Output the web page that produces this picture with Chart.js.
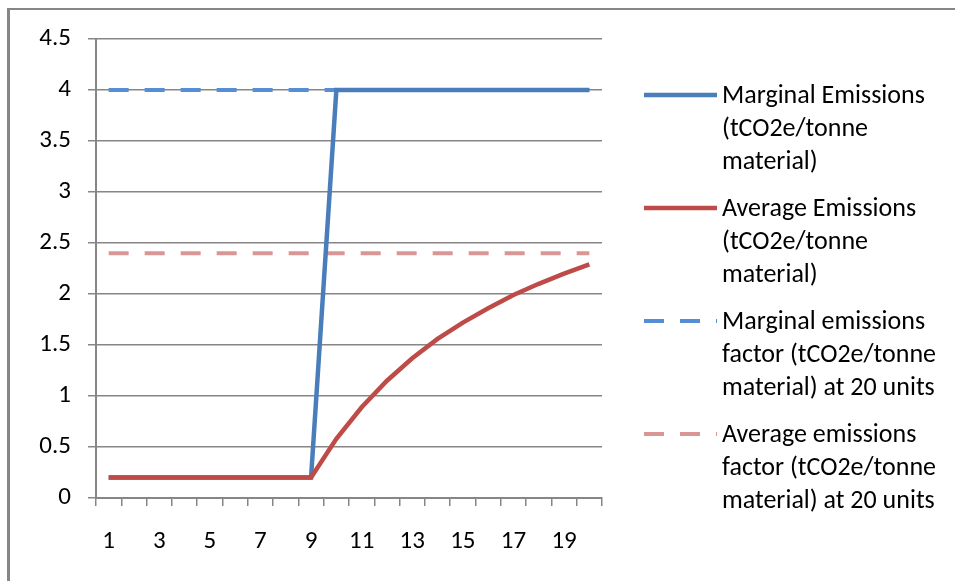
<!DOCTYPE html>
<html>
<head>
<meta charset="utf-8">
<script src="https://cdn.jsdelivr.net/npm/chart.js@4/dist/chart.umd.min.js"></script>
<style>
  html, body { margin: 0; padding: 0; background: #fff; }
  #wrap { position: relative; width: 955px; height: 581px; overflow: hidden; }
  #frameTop { position: absolute; left: 7px; top: 8px; width: 948px; height: 2px; background: #868686; }
  #frameLeft { position: absolute; left: 7px; top: 8px; width: 3px; height: 573px; background: #868686; }
  canvas { position: absolute; left: 0; top: 0; }
</style>
</head>
<body>
<div id="wrap">
  <canvas id="c" width="955" height="581"></canvas>
  <div id="frameTop"></div>
  <div id="frameLeft"></div>
</div>
<script>
// Units produced
const units = ['1','2','3','4','5','6','7','8','9','10','11','12','13','14','15','16','17','18','19','20'];

// Emissions per unit of material (tCO2e/tonne)
const marginalEmissions = [0.2,0.2,0.2,0.2,0.2,0.2,0.2,0.2,0.2,4,4,4,4,4,4,4,4,4,4,4];
const averageEmissions  = [0.2,0.2,0.2,0.2,0.2,0.2,0.2,0.2,0.2,0.58,0.89,1.15,1.37,1.56,1.72,1.86,1.99,2.1,2.2,2.29];
const marginalFactorAt20 = [4,4,4,4,4,4,4,4,4,4,4,4,4,4,4,4,4,4,4,4];
const averageFactorAt20  = [2.4,2.4,2.4,2.4,2.4,2.4,2.4,2.4,2.4,2.4,2.4,2.4,2.4,2.4,2.4,2.4,2.4,2.4,2.4,2.4];

const seriesNames = [
  ['Marginal Emissions', '(tCO2e/tonne', 'material)'],
  ['Average Emissions', '(tCO2e/tonne', 'material)'],
  ['Marginal emissions', 'factor (tCO2e/tonne', 'material) at 20 units'],
  ['Average emissions', 'factor (tCO2e/tonne', 'material) at 20 units']
];

const FONT = 'Carlito, Lato, sans-serif';
const GRID = '#868686';

// Legend drawn at the right: a line sample followed by three lines of text per series
const sideLegend = {
  id: 'sideLegend',
  afterDraw(chart) {
    const ctx = chart.ctx;
    const x0 = 644, x1 = 717, tx = 722;
    const firstY = 95, lineH = 33, itemGap = 113;
    ctx.save();
    chart.data.datasets.forEach((ds, i) => {
      const y = firstY + i * itemGap;
      ctx.beginPath();
      ctx.strokeStyle = ds.borderColor;
      ctx.lineWidth = ds.borderWidth;
      ctx.setLineDash(ds.borderDash || []);
      ctx.lineCap = 'butt';
      ctx.moveTo(x0, y);
      ctx.lineTo(x1, y);
      ctx.stroke();
      ctx.setLineDash([]);
      ctx.fillStyle = '#000';
      ctx.font = '26px ' + FONT;
      ctx.textBaseline = 'middle';
      ctx.textAlign = 'left';
      seriesNames[i].forEach((t, k) => ctx.fillText(t, tx, y + 1 + k * lineH));
    });
    ctx.restore();
  }
};

new Chart(document.getElementById('c'), {
  type: 'line',
  data: {
    labels: units,
    datasets: [
      { label: seriesNames[0].join(' '), data: marginalEmissions, borderColor: '#4A7EBB', borderWidth: 4.5, order: 1 },
      { label: seriesNames[1].join(' '), data: averageEmissions, borderColor: '#BE4B48', borderWidth: 4.5, order: 0 },
      { label: seriesNames[2].join(' '), data: marginalFactorAt20, borderColor: '#558ED5', borderWidth: 4, borderDash: [20, 16], order: 2 },
      { label: seriesNames[3].join(' '), data: averageFactorAt20, borderColor: '#D99694', borderWidth: 4, borderDash: [20, 16], order: 3 }
    ]
  },
  options: {
    responsive: false,
    animation: false,
    devicePixelRatio: 1,
    layout: { padding: { top: 39, right: 353, bottom: 0, left: 0 } },
    elements: {
      point: { radius: 0, hoverRadius: 0 },
      line: { tension: 0, fill: false, borderCapStyle: 'butt' }
    },
    plugins: {
      legend: { display: false },
      tooltip: { enabled: false }
    },
    scales: {
      x: {
        offset: true,
        grid: { offset: true, drawOnChartArea: false, drawTicks: true, tickLength: 8, color: GRID, lineWidth: 1.5 },
        border: { display: true, color: GRID, width: 2 },
        ticks: {
          autoSkip: false,
          maxRotation: 0,
          padding: 21,
          color: '#000',
          font: { family: FONT, size: 25 },
          callback: function (value, index) {
            return index % 2 === 0 ? this.getLabelForValue(value) : '';
          }
        },
        afterFit(scale) { scale.height = 83; }
      },
      y: {
        min: 0,
        max: 4.5,
        grid: { color: GRID, lineWidth: 1.5, tickLength: 8 },
        border: { display: true, color: GRID, width: 2 },
        ticks: {
          stepSize: 0.5,
          padding: 17,
          color: '#000',
          font: { family: FONT, size: 25 },
          callback: (v) => String(Math.round(v * 10) / 10)
        },
        afterFit(scale) { scale.width = 96; }
      }
    }
  },
  plugins: [sideLegend]
});
</script>
</body>
</html>
